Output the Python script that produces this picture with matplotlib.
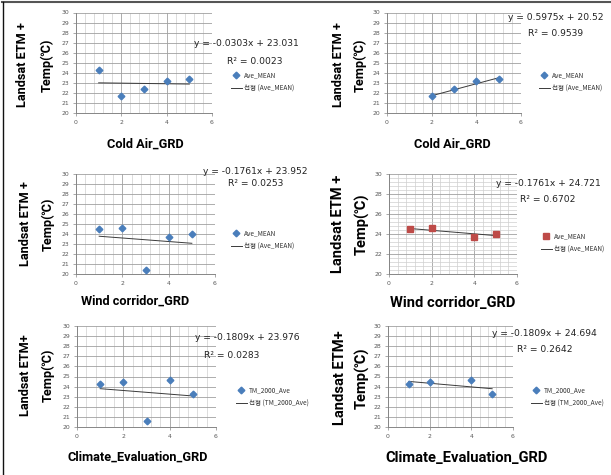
import matplotlib
matplotlib.use("Agg")
import matplotlib.pyplot as plt
from matplotlib.lines import Line2D
from matplotlib.ticker import MultipleLocator

W, H = 611, 475

# values
grd_all = [1, 2, 3, 4, 5]
grd_sub = [1, 2, 4, 5]
grd_cold_sub = [2, 3, 4, 5]

cold_air_mean = [24.3, 21.7, 22.4, 23.15, 23.4]
cold_air_sub = [21.7, 22.4, 23.15, 23.4]
wind_mean = [24.5, 24.6, 20.4, 23.75, 24.0]
wind_sub = [24.5, 24.6, 23.75, 24.0]
climate_mean = [24.3, 24.45, 20.55, 24.7, 23.25]
climate_sub = [24.3, 24.45, 24.7, 23.25]

slopes = [-0.0303, 0.5975, -0.1761, -0.1761, -0.1809, -0.1809]
intercepts = ["23.031", "20.52", "23.952", "24.721", "23.976", "24.694"]
r_squared = ["0.0023", "0.9539", "0.0253", "0.6702", "0.0283", "0.2642"]

x_labels = ["Cold Air_GRD", "Cold Air_GRD", "Wind corridor_GRD",
            "Wind corridor_GRD", "Climate_Evaluation_GRD", "Climate_Evaluation_GRD"]
y_label_top = ["Landsat ETM +", "Landsat ETM +", "Landsat ETM +",
               "Landsat ETM +", "Landsat ETM+", "Landsat ETM+"]
series_names = ["Ave_MEAN", "Ave_MEAN", "Ave_MEAN", "Ave_MEAN",
                "TM_2000_Ave", "TM_2000_Ave"]

BLUE = "#4A7EBB"
RED = "#BE4B48"

# layout of each small chart, in pixels of the 611x475 picture
panels = [
    dict(x=grd_all, y=cold_air_mean, box=(76, 212, 12.5, 113), color=BLUE, marker="D", ms=3.4, ystep=1,
         ylab=(23, 47, 65), xlab=(145, 144), eq=(194, 43), r2=(227, 61), leg=(228, 82), fs=1.0),
    dict(x=grd_cold_sub, y=cold_air_sub, box=(387, 521, 12.5, 113), color=BLUE, marker="D", ms=3.4, ystep=1,
         ylab=(338, 360, 65), xlab=(452, 144), eq=(508, 18), r2=(528, 33), leg=(536, 82), fs=1.0),
    dict(x=grd_all, y=wind_mean, box=(76, 215, 174, 274), color=BLUE, marker="D", ms=3.4, ystep=1,
         ylab=(26, 48, 224), xlab=(135, 301), eq=(203, 172), r2=(228, 183), leg=(228, 240), fs=1.0),
    dict(x=grd_sub, y=wind_sub, box=(389, 517, 174, 274), color=RED, marker="s", ms=4.0, ystep=2,
         ylab=(338, 362, 224), xlab=(453, 303), eq=(496, 183), r2=(520, 200), leg=(538, 243), fs=1.15),
    dict(x=grd_all, y=climate_mean, box=(77, 216, 326, 427), color=BLUE, marker="D", ms=3.4, ystep=1,
         ylab=(26, 48, 375), xlab=(138, 457), eq=(195, 338), r2=(204, 356), leg=(233, 397), fs=1.0),
    dict(x=grd_sub, y=climate_sub, box=(388, 513, 326, 427), color=BLUE, marker="D", ms=3.4, ystep=1,
         ylab=(340, 362, 378), xlab=(467, 458), eq=(492, 334), r2=(517, 350), leg=(528, 397), fs=1.15),
]

fig = plt.figure(figsize=(W / 100, H / 100), dpi=100)
fig.patch.set_facecolor("white")

def fx(px):
    return px / W

def fy(py):
    return 1 - py / H

label_font = ["Roboto", "DejaVu Sans"]
legend_font = ["Noto Sans CJK KR", "DejaVu Sans"]

for i, p in enumerate(panels):
    x0, x1, yt, yb = p["box"]
    ax = fig.add_axes([fx(x0), fy(yb), (x1 - x0) / W, (yb - yt) / H])
    ax.set_xlim(0, 6)
    ax.set_ylim(20, 30)
    ax.xaxis.set_major_locator(MultipleLocator(2))
    ax.xaxis.set_minor_locator(MultipleLocator(0.4))
    ax.yaxis.set_major_locator(MultipleLocator(p["ystep"]))
    if p["ystep"] == 2:
        ax.yaxis.set_minor_locator(MultipleLocator(0.4))
    ax.grid(True, which="major", color="#A0A0A0", linewidth=0.6)
    ax.grid(True, which="minor", color="#CFCFCF", linewidth=0.5)
    ax.set_axisbelow(True)
    for side in ["top", "right"]:
        ax.spines[side].set_visible(False)
    for side in ["left", "bottom"]:
        ax.spines[side].set_color("#868686")
        ax.spines[side].set_linewidth(0.7)
    ax.tick_params(which="both", length=2, width=0.5, color="#868686",
                   labelsize=4.4, labelcolor="#595959", pad=3)
    ax.tick_params(which="minor", length=0)

    (pts,) = ax.plot(p["x"], p["y"], linestyle="none", marker=p["marker"],
                     markersize=p["ms"], color=p["color"], zorder=3)
    xs = [min(p["x"]), max(p["x"])]
    (trend,) = ax.plot(xs, [slopes[i] * v + float(intercepts[i]) for v in xs],
                       color="#3A3A3A", linewidth=0.7, zorder=2)

    eq = f"y = {slopes[i]:.4f}x + {intercepts[i]}"
    fig.text(fx(p["eq"][0]), fy(p["eq"][1]), eq, fontsize=6.6,
             ha="left", va="center", color="#222222")
    fig.text(fx(p["r2"][0]), fy(p["r2"][1]), f"R² = {r_squared[i]}",
             fontsize=6.6, ha="left", va="center", color="#222222")

    leg = ax.legend([pts, trend], [series_names[i], f"선형 ({series_names[i]})"],
                    loc="center left", bbox_to_anchor=(fx(p["leg"][0]), fy(p["leg"][1])),
                    bbox_transform=fig.transFigure, frameon=False, numpoints=1,
                    handlelength=1.6, handletextpad=0.3, labelspacing=0.8,
                    borderpad=0, prop={"family": legend_font, "size": 4.7})
    for t in leg.get_texts():
        t.set_color("#333333")

    fs = p["fs"]
    lx1, lx2, ly = p["ylab"]
    fig.text(fx(lx1), fy(ly), y_label_top[i], rotation=90, ha="center", va="center",
             fontsize=9.2 * fs, fontweight="bold", family=label_font)
    fig.text(fx(lx2), fy(ly), "Temp(℃)", rotation=90, ha="center", va="center",
             fontsize=9.2 * fs, fontweight="bold", family=["Roboto", "Noto Sans CJK KR", "DejaVu Sans"])
    fig.text(fx(p["xlab"][0]), fy(p["xlab"][1]), x_labels[i], ha="center", va="center",
             fontsize=9.2 * fs, fontweight="bold", family=label_font)

# outer frame: top and left edges only
fig.add_artist(Line2D([fx(2), 1], [fy(2), fy(2)], color="#555555", linewidth=1.5))
fig.add_artist(Line2D([fx(3), fx(3)], [fy(2), 0], color="#111111", linewidth=1.0))

fig.savefig("out.png", dpi=100)
